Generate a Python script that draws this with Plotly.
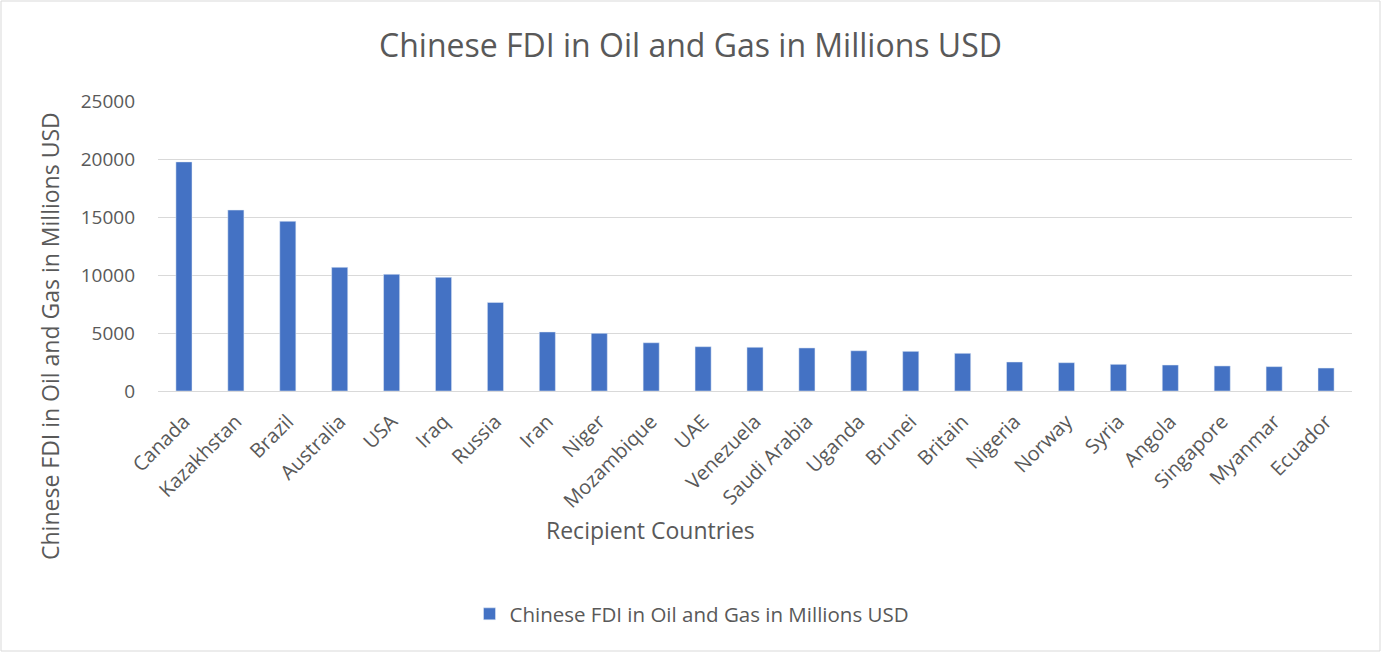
import plotly.graph_objects as go

countries = ["Canada", "Kazakhstan", "Brazil", "Australia", "USA", "Iraq", "Russia", "Iran",
             "Niger", "Mozambique", "UAE", "Venezuela", "Saudi Arabia", "Uganda", "Brunei",
             "Britain", "Nigeria", "Norway", "Syria", "Angola", "Singapore", "Myanmar", "Ecuador"]
fdi_values = [19750, 15600, 14630, 10660, 10060, 9800, 7640, 5090,
              4970, 4160, 3820, 3770, 3710, 3470, 3420,
              3250, 2500, 2440, 2300, 2240, 2160, 2100, 1980]
y_ticks = [0, 5000, 10000, 15000, 20000, 25000]
series_name = "Chinese FDI in Oil and Gas in Millions USD"

W, H = 1381, 652
L, R, T, B = 158, 29, 101, 261
pw, ph = W - L - R, H - T - B

def px_x(x):
    return (x - L) / pw

def px_y(y):
    return (H - B - y) / ph

FONT = "Open Sans"
TXT = "#595959"

fig = go.Figure()
fig.add_trace(go.Bar(x=countries, y=fdi_values, name=series_name,
                     marker=dict(color="#4472C4"), showlegend=True))

fig.update_layout(
    width=W, height=H,
    margin=dict(l=L, r=R, t=T, b=B),
    paper_bgcolor="white", plot_bgcolor="white",
    font=dict(family=FONT, color=TXT, size=20),
    bargap=0.69,
    title=dict(text=series_name, x=0.5, xref="container", y=1 - 46 / H, yref="container",
               xanchor="center", yanchor="middle",
               font=dict(family=FONT, size=32, color=TXT)),
    showlegend=True,
    legend=dict(orientation="h", x=px_x(692), y=px_y(614), xanchor="center", yanchor="middle",
                itemwidth=30, font=dict(family=FONT, size=20.5, color=TXT)),
    xaxis=dict(tickangle=-45, showgrid=False, showline=True, linecolor="#D9D9D9", linewidth=1,
               ticks="", ticklabelstandoff=10, tickfont=dict(family=FONT, size=20, color=TXT)),
    yaxis=dict(range=[0, 25000], tickvals=y_ticks, ticktext=[str(v) for v in y_ticks],
               showgrid=True, gridcolor="#D9D9D9", gridwidth=1, zeroline=False,
               showline=False, ticks="", ticklabelstandoff=22,
               tickfont=dict(family=FONT, size=19, color=TXT)),
)

fig.add_annotation(text=series_name, xref="paper", yref="paper",
                   x=px_x(50), y=px_y(336), textangle=-90, showarrow=False,
                   xanchor="center", yanchor="middle",
                   font=dict(family=FONT, size=23, color=TXT))
fig.add_annotation(text="Recipient Countries", xref="paper", yref="paper",
                   x=px_x(650), y=px_y(530), showarrow=False,
                   xanchor="center", yanchor="middle",
                   font=dict(family=FONT, size=23, color=TXT))

fig.add_shape(type="rect", xref="paper", yref="paper",
              x0=px_x(1), x1=px_x(1380), y0=px_y(651), y1=px_y(1),
              line=dict(color="#D9D9D9", width=1), fillcolor="rgba(0,0,0,0)", layer="below")

fig.write_html("out.html", config={"displayModeBar": False},
               post_script="document.body.style.margin='0px';document.body.style.padding='0px';")
